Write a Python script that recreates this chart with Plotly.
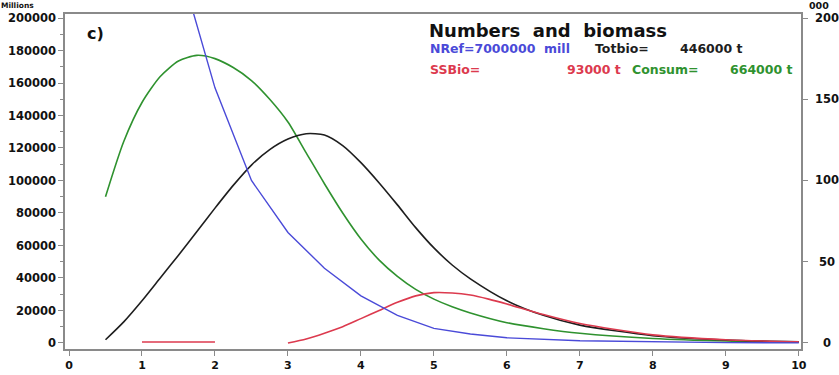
import plotly.graph_objects as go

# Age axis (years) and the series, in millions / tonnes
ages = [0.5, 0.75, 1, 1.25, 1.5, 1.75, 2, 2.25, 2.5, 2.75, 3, 3.25, 3.5, 3.75,
        4, 4.25, 4.5, 4.75, 5, 5.25, 5.5, 6, 6.5, 7, 8, 9, 10]
consum = [90000, 124000, 148000, 164000, 173500, 177000, 175000, 169500, 161500,
          150000, 136000, 117000, 98000, 80000, 64000, 51000, 41000, 33000, 27000,
          22300, 18500, 12500, 8800, 6000, 2800, 1200, 500]
totbio = [2000, 13000, 26000, 40000, 54000, 68500, 83000, 97000, 109500, 119000,
          125500, 128800, 128000, 121500, 111000, 98500, 85000, 71000, 58500,
          48000, 39500, 26000, 17000, 11000, 4500, 1800, 700]

num_ages = [1.5, 2, 2.5, 3, 3.5, 4, 4.5, 5, 5.5, 6, 7, 8, 9, 10]
numbers = [235000, 157000, 100000, 68000, 46000, 29000, 17000, 9000,
           5500, 3200, 1400, 600, 250, 100]

ssb_ages = [1, 2, 2.5, 3, 3.25, 3.5, 3.75, 4, 4.25, 4.5, 4.75, 5, 5.25, 5.5,
            5.75, 6, 6.5, 7, 8, 9, 10]
ssbio = [600, 600, None, 0, 2500, 6000, 10000, 15000, 20000, 25000, 29000,
         31000, 30800, 29500, 27000, 24000, 17500, 12000, 5000, 2000, 700]

x_ticks = list(range(0, 11))
y_ticks = list(range(0, 200001, 20000))
right_ticks = [0, 50, 100, 150, 200]

BLUE = "#4a4ad8"
GREEN = "#2f922f"
RED = "#dc3a4e"
BLACK = "#1e1e1e"
AXIS = "#8a8a8a"
FONT = "DejaVu Sans"

# plot area in pixels: left 65, right 801, top 14, bottom 349
L, R, T, B = 65, 801, 14, 349
W, H = 839, 375


def px(x):
    return (x - L) / (R - L)


def py(y):
    return 1 - (y - T) / (B - T)


smooth = dict(shape="spline", smoothing=0.7)
fig = go.Figure()
fig.add_trace(go.Scatter(x=ages, y=consum, mode="lines", line=dict(color=GREEN, width=1.6, **smooth)))
fig.add_trace(go.Scatter(x=ages, y=totbio, mode="lines", line=dict(color=BLACK, width=1.6, **smooth)))
fig.add_trace(go.Scatter(x=ssb_ages, y=ssbio, mode="lines", connectgaps=False,
                         line=dict(color=RED, width=1.6, **smooth)))
fig.add_trace(go.Scatter(x=num_ages, y=numbers, mode="lines", line=dict(color=BLUE, width=1.4)))
# invisible trace to activate the right-hand axis
fig.add_trace(go.Scatter(x=[0], y=[0], yaxis="y2", mode="markers", marker=dict(opacity=0), hoverinfo="skip"))

yr = [-3700, 202460]

fig.update_layout(
    width=W, height=H,
    margin=dict(l=L, r=W - R, t=T, b=H - B, pad=0, autoexpand=False),
    paper_bgcolor="white", plot_bgcolor="white",
    showlegend=False,
    font=dict(family=FONT, color="#111", size=11, weight="bold"),
    xaxis=dict(range=[-0.055, 10.03], tickvals=x_ticks, ticks="outside", ticklen=5,
               tickcolor=AXIS, tickwidth=1.2, showline=True, linecolor=AXIS, linewidth=1.5,
               mirror=True, showgrid=False, zeroline=False, automargin=False,
               tickfont=dict(family=FONT, size=11, weight="bold", color="#111")),
    yaxis=dict(range=yr, tickvals=y_ticks, ticktext=[str(v) for v in y_ticks],
               ticks="outside", ticklen=5, tickcolor=AXIS, automargin=False,
               tickwidth=1.2, showline=True, linecolor=AXIS, linewidth=1.5,
               showgrid=False, zeroline=False,
               minor=dict(dtick=10000, tick0=0, ticks="outside", ticklen=3, tickcolor=AXIS),
               tickfont=dict(family=FONT, size=11.5, weight="bold", color="#111")),
    yaxis2=dict(range=[v / 1000 for v in yr], overlaying="y", side="right",
                tickvals=right_ticks, ticks="outside", ticklen=5, tickcolor=AXIS,
                showticklabels=False, showline=True, linecolor=AXIS, linewidth=1.5,
                showgrid=False, zeroline=False, automargin=False),
)

ann = []
# right axis labels, centred
for v in right_ticks:
    ann.append(dict(x=1, xref="paper", y=v, yref="y2", text=str(v), showarrow=False,
                    xanchor="center", xshift=26,
                    font=dict(family=FONT, size=11.5, weight="bold", color="#111")))
ann.append(dict(x=px(819), xref="paper", y=py(6), yref="paper", text="000", showarrow=False,
                xanchor="center", yanchor="middle",
                font=dict(family=FONT, size=9.5, weight="bold", color="#111")))
ann.append(dict(x=px(17), xref="paper", y=py(6), yref="paper", text="Millions", showarrow=False,
                xanchor="center", yanchor="middle",
                font=dict(family=FONT, size=7.5, weight="bold", color="#111")))
ann.append(dict(x=px(85), xref="paper", y=py(33), yref="paper", text="c)", showarrow=False,
                xanchor="left", yanchor="middle",
                font=dict(family=FONT, size=16, weight="bold", color="#111")))

# header block
NB = "\u00a0"
ann.append(dict(x=px(427), xref="paper", y=py(31), yref="paper",
                text=f"Numbers{NB}{NB}and{NB}{NB}biomass", showarrow=False,
                xanchor="left", yanchor="middle",
                font=dict(family=FONT, size=18, weight="bold", color="#111")))

header = [
    (428, 49, f"NRef=7000000{NB}{NB}mill", BLUE),
    (593, 49, "Totbio=", BLACK),
    (678, 49, "446000 t", BLACK),
    (428, 70, "SSBio=", RED),
    (565, 70, "93000 t", RED),
    (630, 70, "Consum=", GREEN),
    (728, 70, "664000 t", GREEN),
]
for x0, y0, txt, col in header:
    ann.append(dict(x=px(x0), xref="paper", y=py(y0), yref="paper", text=txt, showarrow=False,
                    xanchor="left", yanchor="middle",
                    font=dict(family=FONT, size=12.5, weight="bold", color=col)))

fig.update_layout(annotations=ann)
fig.write_html("out.html")
